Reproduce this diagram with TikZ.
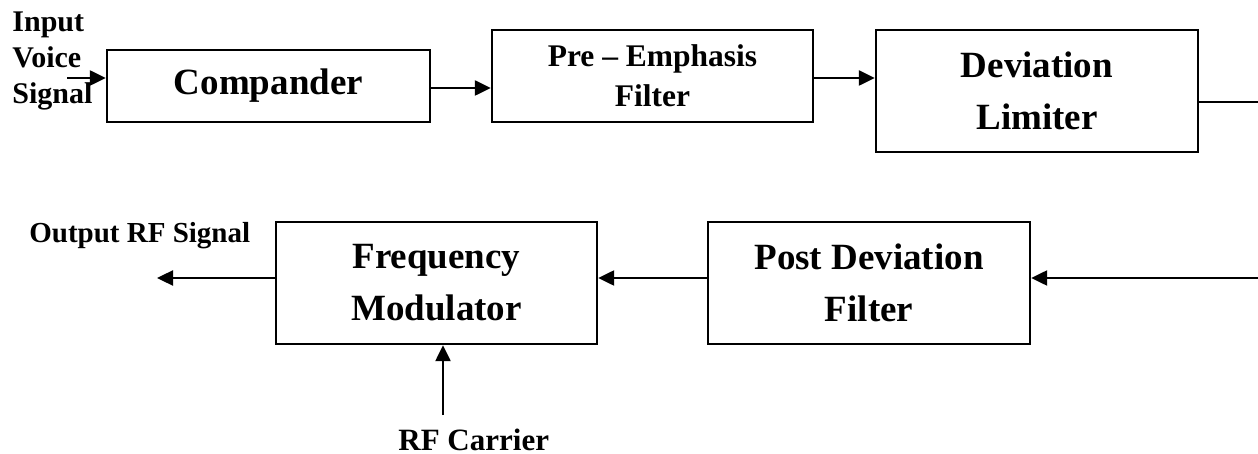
\documentclass[tikz,border=0pt]{standalone}
\usepackage{fontspec}
\setmainfont{Liberation Serif}
\usetikzlibrary{arrows.meta}

\tikzset{
  blk/.style={draw, line width=1.2pt, inner sep=0pt, align=center,
    font=\bfseries\fontsize{18.5}{26}\selectfont},
  lbl/.style={inner sep=0pt, font=\bfseries\fontsize{15}{18}\selectfont},
  sig/.style={line width=1.2pt, -{Triangle[length=8pt,width=7.5pt]}}
}

\begin{document}
\begin{tikzpicture}[x=0.5pt,y=-0.5pt] % 1 unit = 1 px of the original
\useasboundingbox (0,0) rectangle (1258,454);

\node [blk, minimum width=161.5pt, minimum height=36pt] (comp) at (268.5,86) {Compander};
\node [blk, minimum width=160.5pt, minimum height=46pt,
  font=\bfseries\fontsize{15.75}{20}\selectfont] (pre) at (652.5,76) {Pre -- Emphasis\\Filter};
\node [blk, minimum width=161pt, minimum height=61pt] (dev) at (1037,91) {Deviation\\Limiter};
\node [blk, minimum width=161pt, minimum height=61pt] (post) at (869,283) {Post Deviation\\Filter};
\node [blk, minimum width=160.5pt, minimum height=61pt] (fm) at (436.5,283) {Frequency\\Modulator};

\node [lbl, align=left, anchor=west] (in) at (12,61) {Input\\Voice\\Signal};
\node [lbl, font=\bfseries\fontsize{14.5}{18}\selectfont, anchor=base west] (out) at (29,243) {Output RF Signal};
\node [lbl, font=\bfseries\fontsize{15.5}{18}\selectfont, anchor=base west] (rf) at (398,450) {RF Carrier};

\coordinate (src) at (67,78);
\coordinate (k1) at (0,88);
\coordinate (k2) at (0,78);
\coordinate (edge1) at (1258,102);
\coordinate (edge2) at (1258,278);
\coordinate (k3) at (0,278);
\coordinate (sink) at (157,278);
\coordinate (car) at (443,415);

\draw [sig] (src) -- (src -| comp.west);
\draw [sig] (comp.east |- k1) -- (pre.west |- k1);
\draw [sig] (pre.east |- k2) -- (dev.west |- k2);
\draw [line width=0.8pt] (dev.east |- edge1) -- (edge1);

\draw [sig] (edge2) -- (edge2 -| post.east);
\draw [sig] (post.west |- k3) -- (fm.east |- k3);
\draw [sig] (fm.west |- k3) -- (sink);
\draw [sig] (car) -- (car |- fm.south);

\end{tikzpicture}
\end{document}
